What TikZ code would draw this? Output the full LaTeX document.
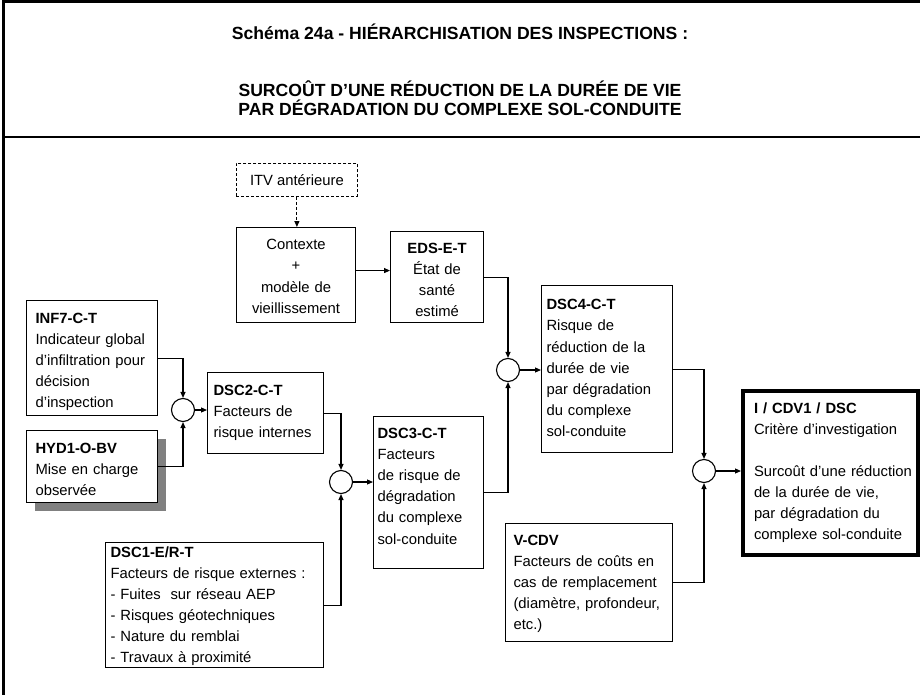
\documentclass[tikz,border=0pt]{standalone}
\usepackage{fontspec}
\setmainfont{Liberation Sans}
\usetikzlibrary{positioning,arrows.meta,shadows}
\newcommand{\bodyfont}{\fontsize{14.8}{21.1}\selectfont}
\newcommand{\titlefont}{\fontsize{17.6}{18.4}\selectfont\bfseries}

\begin{document}
\begin{tikzpicture}[x=1pt, y=-1pt,
    box/.style={draw, line width=1.1pt, anchor=north west, inner ysep=0pt, font=\bodyfont},
    lbox/.style={box, align=left},
    cbox/.style={box, align=center},
    op/.style={draw, circle, line width=1.1pt, minimum size=23pt, inner sep=0pt},
    arr/.style={line width=1.1pt, -{Triangle[length=6pt,width=5pt]}}
    ]
    \useasboundingbox (0,0) rectangle (920,695);

    % frame and title
    \draw[line width=3pt] (3,695) -- (3,2) -- (920,2);
    \draw[line width=1.5pt] (3,137) -- (920,137);
    \node[anchor=base, font=\titlefont] (title1) at (460,40)
        {Schéma 24a - HIÉRARCHISATION DES INSPECTIONS :};
    \node[anchor=base, font=\titlefont] (title2) at (460,97)
        {SURCOÛT D’UNE RÉDUCTION DE LA DURÉE DE VIE};
    \node[anchor=base, font=\titlefont] (title3) at (460,115.5)
        {PAR DÉGRADATION DU COMPLEXE SOL-CONDUITE};

    % boxes (text height = first baseline below the top edge)
    \node[box, dashed, line width=0.8pt, dash pattern=on 3pt off 2pt,
          minimum width=121, minimum height=33] (itv) at (236,163) {ITV antérieure};
    \node[cbox, minimum width=119, text width=109, text height=22.3, text depth=72.7] (ctx) at (236,227)
        {Contexte\\+\\modèle de\\vieillissement};
    \node[cbox, minimum width=93, text width=83, text height=21.7, text depth=69.3] (eds) at (390,231)
        {\textbf{EDS-E-T}\\État de\\santé\\estimé};
    \node[lbox, minimum width=131, inner xsep=9, text width=113, text height=22.7, text depth=92.3] (inf7) at (26,300)
        {\textbf{INF7-C-T}\\Indicateur global\\d’infiltration pour\\décision\\d’inspection};
    \node[lbox, fill=white, minimum width=131, inner xsep=9, text width=113, text height=23, text depth=49,
          drop shadow={shadow xshift=8pt, shadow yshift=-8pt, fill=black!50, opacity=1}] (hyd1) at (26,430)
        {\textbf{HYD1-O-BV}\\Mise en charge\\observée};
    \node[lbox, minimum width=116, inner xsep=6, text width=104, text height=23, text depth=58] (dsc2) at (207,372)
        {\textbf{DSC2-C-T}\\Facteurs de\\risque internes};
    \node[lbox, minimum width=218, inner xsep=5, text width=208, text height=14.7, text depth=110.3] (dsc1) at (105,542)
        {\textbf{DSC1-E/R-T}\\Facteurs de risque externes :\\- Fuites~~sur réseau AEP\\- Risques géotechniques\\- Nature du remblai\\- Travaux à proximité};
    \node[lbox, minimum width=110, inner xsep=4, text width=102, text height=22, text depth=130] (dsc3) at (373,416)
        {\textbf{DSC3-C-T}\\Facteurs\\de risque de\\dégradation\\du complexe\\sol-conduite};
    \node[lbox, minimum width=131, inner xsep=5, text width=121, text height=24.3, text depth=142.7] (dsc4) at (541,285)
        {\textbf{DSC4-C-T}\\Risque de\\réduction de la\\durée de vie\\par dégradation\\du complexe\\sol-conduite};
    \node[lbox, minimum width=167, inner xsep=8, text width=151, text height=22, text depth=96] (vcdv) at (505,523)
        {\textbf{V-CDV}\\Facteurs de coûts en\\cas de remplacement\\\mbox{(diamètre, profondeur,}\\etc.)};
    \node[lbox, line width=4pt, minimum width=175, inner xsep=11, text width=153, text height=22, text depth=142] (fin) at (741,389)
        {\textbf{I / CDV1 / DSC}\\Critère d’investigation\\[21.1pt]\mbox{Surcoût d’une réduction}\\de la durée de vie,\\par dégradation du\\complexe sol-conduite};

    % junctions
    \node[op] (op1) at (183,410) {};
    \node[op] (op2) at (341,482) {};
    \node[op] (op3) at (508,370) {};
    \node[op] (op4) at (704,471) {};

    % connectors
    \draw[arr, dashed, dash pattern=on 3pt off 2pt] (itv.south) -- (itv.south |- ctx.north);
    \draw[arr] ([yshift=4.5pt]ctx.east) -- ([yshift=4.5pt]ctx.east -| eds.west);
    \draw[arr] (inf7.east) -| (op1.north);
    \draw[arr] (hyd1.east) -| (op1.south);
    \draw[arr] (op1.east) -- (op1 -| dsc2.west);
    \draw[arr] (dsc2.east) -| (op2.north);
    \draw[arr] (dsc1.east) -| (op2.south);
    \draw[arr] (op2.east) -- (op2 -| dsc3.west);
    \draw[arr] (eds.east) -| (op3.north);
    \draw[arr] (dsc3.east) -| (op3.south);
    \draw[arr] (op3.east) -- (op3 -| dsc4.west);
    \draw[arr] (dsc4.east) -| (op4.north);
    \draw[arr] (vcdv.east) -| (op4.south);
    \draw[arr] (op4.east) -- (op4 -| fin.west);
\end{tikzpicture}
\end{document}
